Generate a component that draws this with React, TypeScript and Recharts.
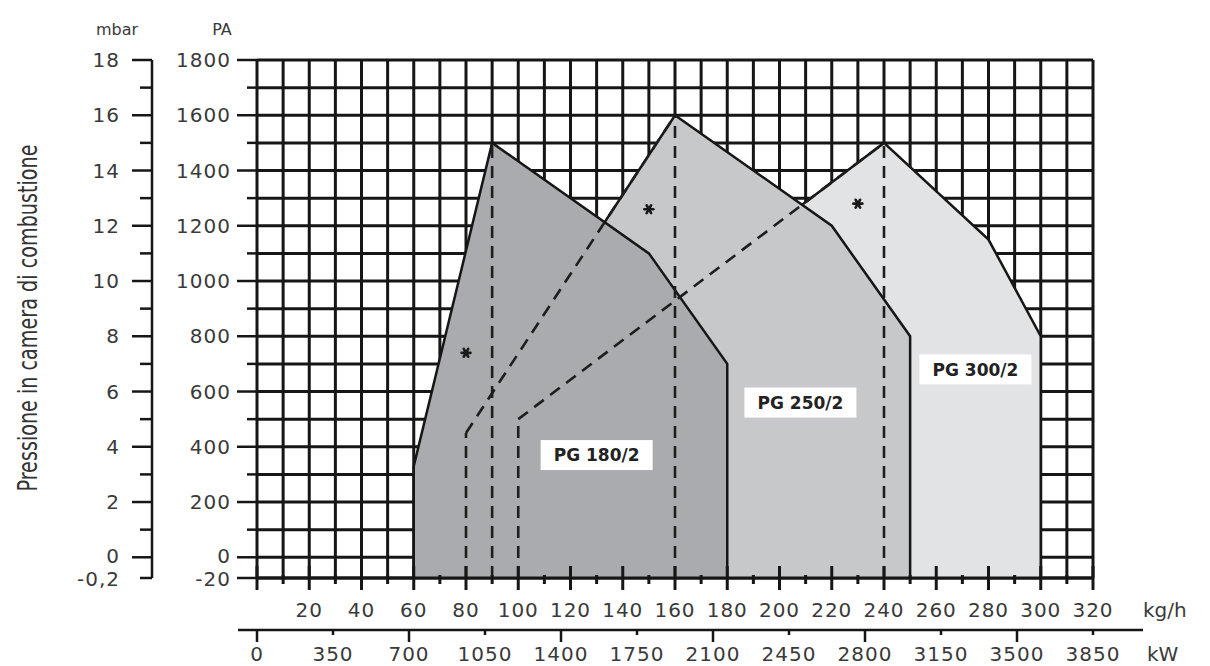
import React from 'react';
import {
  ComposedChart,
  Area,
  Line,
  XAxis,
  YAxis,
  CartesianGrid,
  ReferenceLine,
  ReferenceDot,
} from 'recharts';

// The bottom grid line (labelled "-20" Pa / "-0,2" mbar) sits on a broken axis below 0.
const Y_FLOOR = -75;

const KG_TICKS = [0, 10, 20, 30, 40, 50, 60, 70, 80, 90, 100, 110, 120, 130, 140, 150, 160, 170, 180, 190, 200, 210, 220, 230, 240, 250, 260, 270, 280, 290, 300, 310, 320];
const KW_TICKS = [0, 350, 700, 1050, 1400, 1750, 2100, 2450, 2800, 3150, 3500, 3850];
const PA_TICKS = [Y_FLOOR, 0, 100, 200, 300, 400, 500, 600, 700, 800, 900, 1000, 1100, 1200, 1300, 1400, 1500, 1600, 1700, 1800];
const MBAR_TICKS = [Y_FLOOR / 100, 0, 1, 2, 3, 4, 5, 6, 7, 8, 9, 10, 11, 12, 13, 14, 15, 16, 17, 18];

const PG180 = [
  { kg: 60, pa: Y_FLOOR },
  { kg: 60, pa: 330 },
  { kg: 90, pa: 1500 },
  { kg: 150, pa: 1100 },
  { kg: 180, pa: 700 },
  { kg: 180, pa: Y_FLOOR },
];
const PG250 = [
  { kg: 80, pa: Y_FLOOR },
  { kg: 80, pa: 450 },
  { kg: 160, pa: 1600 },
  { kg: 220, pa: 1200 },
  { kg: 250, pa: 800 },
  { kg: 250, pa: Y_FLOOR },
];
const PG300 = [
  { kg: 100, pa: Y_FLOOR },
  { kg: 100, pa: 500 },
  { kg: 240, pa: 1500 },
  { kg: 280, pa: 1150 },
  { kg: 300, pa: 800 },
  { kg: 300, pa: Y_FLOOR },
];

const DASHED = [
  [{ x: 80, y: Y_FLOOR }, { x: 80, y: 450 }],
  [{ x: 80, y: 450 }, { x: 160, y: 1600 }],
  [{ x: 90, y: Y_FLOOR }, { x: 90, y: 1500 }],
  [{ x: 100, y: Y_FLOOR }, { x: 100, y: 500 }],
  [{ x: 100, y: 500 }, { x: 240, y: 1500 }],
  [{ x: 160, y: Y_FLOOR }, { x: 160, y: 1600 }],
  [{ x: 240, y: Y_FLOOR }, { x: 240, y: 1500 }],
];

const MODEL_LABELS = [
  { name: 'PG 180/2', kg: 130, pa: 370 },
  { name: 'PG 250/2', kg: 208, pa: 560 },
  { name: 'PG 300/2', kg: 275, pa: 680 },
];

const STARS = [
  { kg: 80, pa: 740 },
  { kg: 150, pa: 1260 },
  { kg: 230, pa: 1280 },
];

// kW scale end points (carries the second x axis, draws nothing)
const KW_RANGE = [{ kw: 0 }, { kw: 3850 }];

const PA = 'a_pa';
const MBAR = 'b_mbar';

const INK = '#161616';
const TEXT = '#3a3a3a';
const tickStyle: React.CSSProperties = {
  fontFamily: 'DejaVu Sans, sans-serif',
  fontSize: 20,
  letterSpacing: 1,
  fill: TEXT,
};

const PaTick = (props: any) => {
  const { x, y, payload } = props;
  const v = payload.value;
  const major = v === Y_FLOOR || v % 200 === 0;
  const dy = v === Y_FLOOR ? '0.42em' : v === 0 ? '0.3em' : '0.36em';
  return (
    <g>
      <line x1={x - (major ? 20 : 10)} x2={x} y1={y} y2={y} stroke={INK} strokeWidth={2.5} />
      {major && (
        <text x={x - 26} y={y} dy={dy} textAnchor="end" style={tickStyle}>
          {v === Y_FLOOR ? '-20' : String(v)}
        </text>
      )}
    </g>
  );
};

const MbarTick = (props: any) => {
  const { x, y, payload } = props;
  const v = payload.value;
  const floor = v === Y_FLOOR / 100;
  const major = !floor && v % 2 === 0;
  const dy = floor ? '0.42em' : v === 0 ? '0.3em' : '0.36em';
  return (
    <g>
      <line x1={x - (major ? 20 : 12)} x2={x} y1={y} y2={y} stroke={INK} strokeWidth={2.5} />
      {(major || floor) && (
        <text x={x - 32} y={y} dy={dy} textAnchor="end" style={tickStyle}>
          {floor ? '-0,2' : String(v)}
        </text>
      )}
    </g>
  );
};

const KgTick = (props: any) => {
  const { x, y, payload } = props;
  const v = payload.value;
  const major = v % 20 === 0;
  return (
    <g>
      <line x1={x} x2={x} y1={y - (major ? 12 : 3)} y2={y + (major ? 12 : 6)} stroke={INK} strokeWidth={3} />
      {major && v > 0 && (
        <text x={x} y={y + 39} textAnchor="middle" style={tickStyle}>
          {String(v)}
        </text>
      )}
    </g>
  );
};

const KwTick = (props: any) => {
  const { x, y, payload } = props;
  const v = payload.value;
  const major = v % 700 === 0;
  return (
    <g>
      <line x1={x} x2={x} y1={y} y2={y + (major ? 12 : 5)} stroke={INK} strokeWidth={2.5} />
      <text x={x} y={y + 31} textAnchor="middle" style={tickStyle}>
        {String(v)}
      </text>
    </g>
  );
};

const ModelBox = (name: string) => (props: any) => {
  const { cx, cy } = props;
  const w = 112;
  const h = 30;
  return (
    <g>
      <rect x={cx - w / 2} y={cy - h / 2} width={w} height={h} fill="#ffffff" />
      <text
        x={cx}
        y={cy}
        dy="0.36em"
        textAnchor="middle"
        style={{ fontFamily: 'DejaVu Sans, sans-serif', fontWeight: 700, fontSize: 17, fill: '#222' }}
      >
        {name}
      </text>
    </g>
  );
};

const Star = (props: any) => {
  const { cx, cy } = props;
  const r = 4.5;
  return (
    <g stroke="#1a1a1a" strokeWidth={2.6} strokeLinecap="round">
      <line x1={cx - r} x2={cx + r} y1={cy} y2={cy} />
      <line x1={cx - r * 0.5} x2={cx + r * 0.5} y1={cy - r * 0.87} y2={cy + r * 0.87} />
      <line x1={cx + r * 0.5} x2={cx - r * 0.5} y1={cy - r * 0.87} y2={cy + r * 0.87} />
    </g>
  );
};

export default function App() {
  return (
    <div style={{ width: 1210, height: 666, background: '#fff' }}>
      <style>{'body{margin:0;background:#fff;}'}</style>
      <ComposedChart width={1210} height={666} margin={{ top: 60, right: 117, bottom: 0, left: 0 }}>
        <CartesianGrid xAxisId="kg" yAxisId={PA} stroke={INK} strokeWidth={3} />
        <XAxis
          xAxisId="kg"
          type="number"
          dataKey="kg"
          domain={[0, 320]}
          ticks={KG_TICKS}
          interval={0}
          tickSize={0}
          tickMargin={0}
          height={52}
          tick={(p: any) => <KgTick {...p} />}
          axisLine={{ stroke: INK, strokeWidth: 3 }}
          allowDataOverflow
        />
        <XAxis
          xAxisId="kw"
          type="number"
          dataKey="kw"
          domain={[0, 3850]}
          ticks={KW_TICKS}
          interval={0}
          tickSize={0}
          tickMargin={0}
          height={36}
          tick={(p: any) => <KwTick {...p} />}
          axisLine={false}
          allowDataOverflow
        />
        <YAxis
          yAxisId={PA}
          type="number"
          domain={[Y_FLOOR, 1800]}
          ticks={PA_TICKS}
          interval={0}
          width={105}
          tickSize={0}
          tickMargin={0}
          tick={(p: any) => <PaTick {...p} />}
          axisLine={false}
          allowDataOverflow
        />
        <YAxis
          yAxisId={MBAR}
          type="number"
          domain={[Y_FLOOR / 100, 18]}
          ticks={MBAR_TICKS}
          interval={0}
          width={152}
          tickSize={0}
          tickMargin={0}
          tick={(p: any) => <MbarTick {...p} />}
          axisLine={{ stroke: INK, strokeWidth: 2.5 }}
          allowDataOverflow
        />
        <Line
          xAxisId="kw"
          yAxisId={PA}
          data={KW_RANGE}
          dataKey="pa"
          stroke="none"
          dot={false}
          activeDot={false}
          legendType="none"
          isAnimationActive={false}
        />
        <Area
          xAxisId="kg"
          yAxisId={PA}
          data={PG300}
          dataKey="pa"
          type="linear"
          baseValue={Y_FLOOR}
          fill="#e2e3e5"
          fillOpacity={1}
          stroke={INK}
          strokeWidth={2.5}
          dot={false}
          activeDot={false}
          isAnimationActive={false}
        />
        <Area
          xAxisId="kg"
          yAxisId={PA}
          data={PG250}
          dataKey="pa"
          type="linear"
          baseValue={Y_FLOOR}
          fill="#c7c8ca"
          fillOpacity={1}
          stroke={INK}
          strokeWidth={2.5}
          dot={false}
          activeDot={false}
          isAnimationActive={false}
        />
        <Area
          xAxisId="kg"
          yAxisId={PA}
          data={PG180}
          dataKey="pa"
          type="linear"
          baseValue={Y_FLOOR}
          fill="#a9abae"
          fillOpacity={1}
          stroke={INK}
          strokeWidth={2.5}
          dot={false}
          activeDot={false}
          isAnimationActive={false}
        />
        {DASHED.map((seg, i) => (
          <ReferenceLine
            key={'d' + i}
            xAxisId="kg"
            yAxisId={PA}
            segment={seg}
            stroke="#1e1e1e"
            strokeWidth={2.6}
            strokeDasharray="12 8"
            ifOverflow="visible"
          />
        ))}
        {MODEL_LABELS.map((m) => (
          <ReferenceDot
            key={m.name}
            xAxisId="kg"
            yAxisId={PA}
            x={m.kg}
            y={m.pa}
            r={1}
            ifOverflow="visible"
            shape={ModelBox(m.name)}
          />
        ))}
        {STARS.map((s, i) => (
          <ReferenceDot
            key={'s' + i}
            xAxisId="kg"
            yAxisId={PA}
            x={s.kg}
            y={s.pa}
            r={1}
            ifOverflow="visible"
            shape={(p: any) => <Star {...p} />}
          />
        ))}
        <line x1={238} x2={1143} y1={630} y2={630} stroke={INK} strokeWidth={2.5} />
        <text x={117} y={35} textAnchor="middle" style={{ ...tickStyle, fontSize: 16, letterSpacing: 0 }}>mbar</text>
        <text x={222} y={35} textAnchor="middle" style={{ ...tickStyle, fontSize: 16, letterSpacing: 0 }}>PA</text>
        <text x={1143} y={617} style={{ ...tickStyle, letterSpacing: 0 }}>kg/h</text>
        <text x={1147} y={661} style={{ ...tickStyle, letterSpacing: 0 }}>kW</text>
        <text
          x={37}
          y={318}
          transform="rotate(-90 37 318)"
          textAnchor="middle"
          textLength={347}
          lengthAdjust="spacingAndGlyphs"
          style={{ fontFamily: 'Liberation Sans Narrow, DejaVu Sans Condensed, sans-serif', fontSize: 27, fill: '#333' }}
        >
          Pressione in camera di combustione
        </text>
      </ComposedChart>
    </div>
  );
}
